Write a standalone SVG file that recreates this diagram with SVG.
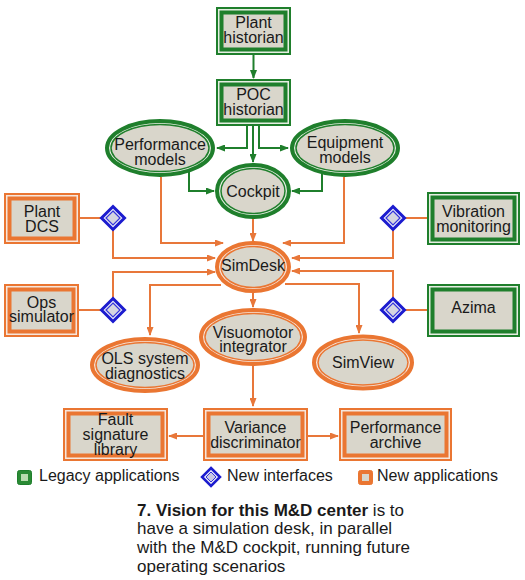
<svg xmlns="http://www.w3.org/2000/svg" width="525" height="580" viewBox="0 0 525 580">
<defs>
<style>
.bg{fill:#ffffff}
.gO{fill:#e6eee2;stroke:#1f7f2c;stroke-width:2}
.gI{fill:#d9d6cb;stroke:#1f7f2c;stroke-width:4}
.oO{fill:#f6e6dc;stroke:#ea7632;stroke-width:2}
.oI{fill:#d9d6cb;stroke:#ea7632;stroke-width:4}
.geO{fill:#e6eee2;stroke:#1f7f2c;stroke-width:4}
.geI{fill:#d9d6cb;stroke:#1f7f2c;stroke-width:1.5}
.oeO{fill:#f6e6dc;stroke:#ea7632;stroke-width:4}
.oeI{fill:#d9d6cb;stroke:#ea7632;stroke-width:1.5}
.dO{fill:#eaeaf6;stroke:#1c1ccf;stroke-width:3}
.dI{fill:#d6d6e0;stroke:#3434dc;stroke-width:1.2}
.t{font-family:"Liberation Sans",Arial,sans-serif;font-size:16px;fill:#1a1a1a;text-anchor:middle}
.lg{font-family:"Liberation Sans",Arial,sans-serif;font-size:16px;fill:#1a1a1a}
.cap{font-family:"Liberation Sans",Arial,sans-serif;font-size:17px;fill:#1a1a1a}
.gl{fill:none;stroke:#1f7f2c;stroke-width:2}
.ol{fill:none;stroke:#e8773a;stroke-width:2}
.ga{marker-end:url(#ag)}
.oa{marker-end:url(#ao)}
</style>
<marker id="ag" markerUnits="userSpaceOnUse" markerWidth="9" markerHeight="7" refX="8" refY="3.5" orient="auto">
<path d="M0,0 L9,3.5 L0,7 z" fill="#1f7f2c"/>
</marker>
<marker id="ao" markerUnits="userSpaceOnUse" markerWidth="9" markerHeight="7" refX="8" refY="3.5" orient="auto">
<path d="M0,0 L9,3.5 L0,7 z" fill="#e8773a"/>
</marker>
</defs>
<rect class="bg" x="0" y="0" width="525" height="580"/>

<g id="connectors">
<path class="gl ga" d="M253.5,55 V78"/>
<path class="gl ga" d="M247,126 V148 H217"/>
<path class="gl ga" d="M253,126 V162"/>
<path class="gl ga" d="M259,126 V148 H288"/>
<path class="gl ga" d="M189,172 V191 H214"/>
<path class="gl ga" d="M322,174 V191 H292"/>
<path class="ol oa" d="M253,219 V241"/>
<path class="ol oa" d="M161,177 V243 H223"/>
<path class="ol oa" d="M344,177 V243 H283"/>
<path class="ol" d="M80,218 H101.5"/>
<path class="ol oa" d="M113,229.5 V258 H215"/>
<path class="ol" d="M79,310 H101.5"/>
<path class="ol oa" d="M113,298.5 V272 H215"/>
<path class="ol" d="M427,218 H404.5"/>
<path class="ol oa" d="M393,229.5 V258 H292"/>
<path class="ol" d="M427,310 H404.5"/>
<path class="ol oa" d="M393,298.5 V271 H292"/>
<path class="ol oa" d="M221,285 H150 V335"/>
<path class="ol oa" d="M285,284 H359 V333"/>
<path class="ol oa" d="M253,292 V307"/>
<path class="ol oa" d="M253,366 V406"/>
<path class="ol oa" d="M203,436 H169"/>
<path class="ol oa" d="M308,436 H338"/>
</g>

<g id="plant-historian">
<rect class="gO" x="217" y="8" width="73" height="46"/>
<rect class="gI" x="221.5" y="12.5" width="64" height="37"/>
<text class="t" x="253.5" y="28">Plant</text>
<text class="t" x="253.5" y="43">historian</text>
</g>
<g id="poc-historian">
<rect class="gO" x="217" y="80" width="73" height="45"/>
<rect class="gI" x="221.5" y="84.5" width="64" height="36"/>
<text class="t" x="253.5" y="100">POC</text>
<text class="t" x="253.5" y="115">historian</text>
</g>
<g id="performance-models">
<ellipse class="geO" cx="160" cy="148" rx="53" ry="27"/>
<ellipse class="geI" cx="160" cy="148" rx="49" ry="23.5"/>
<text class="t" x="160" y="150">Performance</text>
<text class="t" x="160" y="165">models</text>
</g>
<g id="equipment-models">
<ellipse class="geO" cx="345" cy="148" rx="53" ry="27"/>
<ellipse class="geI" cx="345" cy="148" rx="49" ry="23.5"/>
<text class="t" x="345" y="148">Equipment</text>
<text class="t" x="345" y="163">models</text>
</g>
<g id="cockpit">
<ellipse class="geO" cx="253" cy="191" rx="36" ry="26"/>
<ellipse class="geI" cx="253" cy="191" rx="32" ry="22.5"/>
<text class="t" x="253" y="197">Cockpit</text>
</g>
<g id="plant-dcs">
<rect class="oO" x="5" y="194" width="74" height="49"/>
<rect class="oI" x="9.5" y="198.5" width="65" height="40"/>
<text class="t" x="42" y="217">Plant</text>
<text class="t" x="42" y="232">DCS</text>
</g>
<g id="ops-simulator">
<rect class="oO" x="5" y="285" width="73" height="51"/>
<rect class="oI" x="9.5" y="289.5" width="64" height="42"/>
<text class="t" x="41.5" y="308">Ops</text>
<text class="t" x="41.5" y="322">simulator</text>
</g>
<g id="vibration-monitoring">
<rect class="gO" x="428" y="193" width="91" height="51"/>
<rect class="gI" x="432.5" y="197.5" width="82" height="42"/>
<text class="t" x="473.5" y="217">Vibration</text>
<text class="t" x="473.5" y="232">monitoring</text>
</g>
<g id="azima">
<rect class="gO" x="428" y="285" width="91" height="51"/>
<rect class="gI" x="432.5" y="289.5" width="82" height="42"/>
<text class="t" x="473.5" y="313">Azima</text>
</g>
<g id="interface-dcs">
<polygon class="dO" points="113,206.5 124.5,218 113,229.5 101.5,218"/>
<polygon class="dI" points="113,211 120,218 113,225 106,218"/>
</g>
<g id="interface-ops">
<polygon class="dO" points="113,298.5 124.5,310 113,321.5 101.5,310"/>
<polygon class="dI" points="113,303 120,310 113,317 106,310"/>
</g>
<g id="interface-vibration">
<polygon class="dO" points="393,206.5 404.5,218 393,229.5 381.5,218"/>
<polygon class="dI" points="393,211 400,218 393,225 386,218"/>
</g>
<g id="interface-azima">
<polygon class="dO" points="393,298.5 404.5,310 393,321.5 381.5,310"/>
<polygon class="dI" points="393,303 400,310 393,317 386,310"/>
</g>
<g id="simdesk">
<ellipse class="oeO" cx="253" cy="267" rx="36" ry="24"/>
<ellipse class="oeI" cx="253" cy="267" rx="32" ry="20.5"/>
<text class="t" x="253" y="271">SimDesk</text>
</g>
<g id="visuomotor-integrator">
<ellipse class="oeO" cx="253" cy="337" rx="52" ry="27"/>
<ellipse class="oeI" cx="253" cy="337" rx="48" ry="23.5"/>
<text class="t" x="253" y="338">Visuomotor</text>
<text class="t" x="253" y="352">integrator</text>
</g>
<g id="ols-system-diagnostics">
<ellipse class="oeO" cx="145" cy="365" rx="53" ry="26"/>
<ellipse class="oeI" cx="145" cy="365" rx="49" ry="22.5"/>
<text class="t" x="145" y="364">OLS system</text>
<text class="t" x="145" y="379">diagnostics</text>
</g>
<g id="simview">
<ellipse class="oeO" cx="363" cy="362.5" rx="49" ry="26"/>
<ellipse class="oeI" cx="363" cy="362.5" rx="45" ry="22.5"/>
<text class="t" x="363" y="368">SimView</text>
</g>
<g id="fault-signature-library">
<rect class="oO" x="64" y="409" width="103" height="51"/>
<rect class="oI" x="68.5" y="413.5" width="94" height="42"/>
<text class="t" x="115.5" y="425">Fault</text>
<text class="t" x="115.5" y="440">signature</text>
<text class="t" x="115.5" y="455">library</text>
</g>
<g id="variance-discriminator">
<rect class="oO" x="204" y="409" width="103" height="51"/>
<rect class="oI" x="208.5" y="413.5" width="94" height="42"/>
<text class="t" x="255.5" y="433">Variance</text>
<text class="t" x="255.5" y="448">discriminator</text>
</g>
<g id="performance-archive">
<rect class="oO" x="340" y="409" width="111" height="51"/>
<rect class="oI" x="344.5" y="413.5" width="102" height="42"/>
<text class="t" x="395.5" y="433">Performance</text>
<text class="t" x="395.5" y="448">archive</text>
</g>

<g id="legend">
<rect x="17.5" y="470.5" width="14" height="14" rx="2" fill="#2a8a34" stroke="#1f7f2c" stroke-width="1"/>
<rect x="21" y="474" width="7" height="7" fill="#b8dcae"/>
<text class="lg" x="39" y="481">Legacy applications</text>
<polygon points="211,468 220,477 211,486 202,477" fill="#eaeaf6" stroke="#1c1ccf" stroke-width="2.5"/>
<polygon points="211,472 216,477 211,482 206,477" fill="#c8c8e4" stroke="#3434dc" stroke-width="1"/>
<text class="lg" x="227" y="481">New interfaces</text>
<rect x="358.5" y="470.5" width="14" height="14" rx="2" fill="#ea7632" stroke="#ea7632" stroke-width="1"/>
<rect x="362" y="474" width="7" height="7" fill="#d9d6cb"/>
<text class="lg" x="377" y="481">New applications</text>
</g>

<g id="caption">
<text class="cap" x="137" y="515.5"><tspan font-weight="bold">7. Vision for this M&amp;D center</tspan> is to</text>
<text class="cap" x="137" y="534.2">have a simulation desk, in parallel</text>
<text class="cap" x="137" y="553">with the M&amp;D cockpit, running future</text>
<text class="cap" x="137" y="571.7">operating scenarios</text>
</g>
</svg>
